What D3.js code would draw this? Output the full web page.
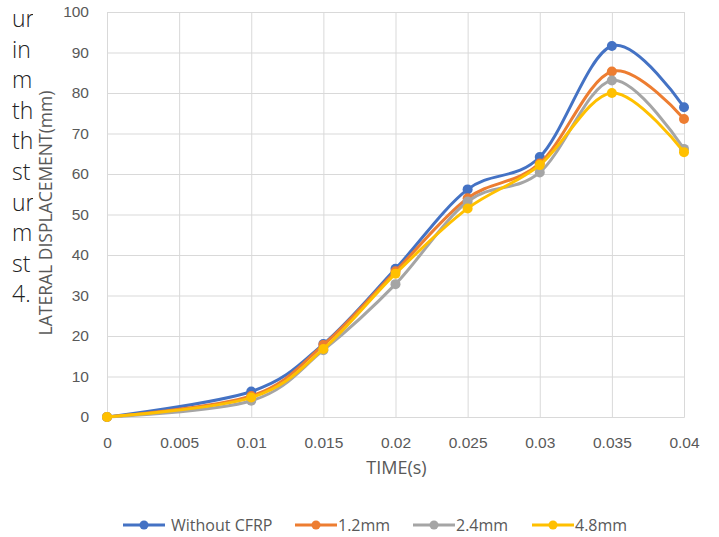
<!DOCTYPE html>
<html>
<head>
<meta charset="utf-8">
<script src="https://cdn.jsdelivr.net/npm/d3@7"></script>
<style>
  body { margin: 0; background: #fff; }
  svg { display: block; }
</style>
</head>
<body>
<div class="responsive-svg-container"></div>
<script>
const timeSteps = [0, 0.01, 0.015, 0.02, 0.025, 0.03, 0.035, 0.04];
const xTicks = [0, 0.005, 0.01, 0.015, 0.02, 0.025, 0.03, 0.035, 0.04];
const yTicks = [0, 10, 20, 30, 40, 50, 60, 70, 80, 90, 100];

const seriesNames = ["Without CFRP", "1.2mm", "2.4mm", "4.8mm"];
const withoutCfrp = [0, 6.3, 18.0, 36.6, 56.2, 64.2, 91.6, 76.5];
const cfrp12 = [0, 5.2, 17.8, 36.0, 54.0, 62.6, 85.3, 73.6];
const cfrp24 = [0, 4.0, 16.5, 32.8, 53.2, 60.4, 83.1, 66.2];
const cfrp48 = [0, 4.8, 16.8, 35.4, 51.5, 62.2, 80.0, 65.4];
const seriesColors = ["#4472C4", "#ED7D31", "#A5A5A5", "#FFC000"];

// clipped words of the page text behind the chart
const sideWords = ["ur", "in", "m", "th", "th", "st", "ur", "m", "st", "4."];

const width = 719;
const height = 537;
const margin = { top: 12, right: 35, bottom: 120, left: 107 };
const plotWidth = width - margin.left - margin.right;
const plotHeight = height - margin.top - margin.bottom;

const svg = d3.select(".responsive-svg-container")
  .append("svg")
  .attr("width", width)
  .attr("height", height)
  .style("font-family", "'Open Sans', 'Noto Sans', sans-serif");

svg.append("defs").append("clipPath").attr("id", "side-clip")
  .append("rect").attr("x", 0).attr("y", 0).attr("width", 33).attr("height", height);

svg.append("g")
  .attr("clip-path", "url(#side-clip)")
  .selectAll("text")
  .data(sideWords)
  .join("text")
  .attr("x", 12)
  .attr("y", (d, i) => 27 + i * 30.6)
  .style("font-size", "23px")
  .style("font-weight", "300")
  .style("fill", "#222")
  .text((d) => d);

const chart = svg.append("g")
  .attr("transform", `translate(${margin.left},${margin.top})`);

const x = d3.scaleLinear().domain([0, 0.04]).range([0, plotWidth]);
const y = d3.scaleLinear().domain([0, 100]).range([plotHeight, 0]);

chart.append("g")
  .call(d3.axisLeft(y).tickValues(yTicks).tickSize(-plotWidth).tickFormat(""))
  .call((g) => g.select(".domain").remove())
  .call((g) => g.selectAll("line").attr("stroke", "#d9d9d9"));

chart.append("g")
  .attr("transform", `translate(0,${plotHeight})`)
  .call(d3.axisBottom(x).tickValues(xTicks).tickSize(-plotHeight).tickFormat(""))
  .call((g) => g.select(".domain").attr("stroke", "#d9d9d9"))
  .call((g) => g.selectAll("line").attr("stroke", "#d9d9d9"));

chart.append("g")
  .call(d3.axisLeft(y).tickValues(yTicks).tickSize(0).tickPadding(18))
  .call((g) => g.select(".domain").remove())
  .call((g) => g.selectAll("text").style("font-size", "15.5px").style("fill", "#595959"));

chart.append("g")
  .attr("transform", `translate(0,${plotHeight})`)
  .call(d3.axisBottom(x).tickValues(xTicks).tickSize(0).tickPadding(20).tickFormat((d) => String(+d.toFixed(3))))
  .call((g) => g.select(".domain").remove())
  .call((g) => g.selectAll("text").style("font-size", "15.5px").style("fill", "#595959"));

const series = [withoutCfrp, cfrp12, cfrp24, cfrp48].map((values, i) => ({
  name: seriesNames[i],
  color: seriesColors[i],
  points: values.map((v, j) => ({ t: timeSteps[j], v })),
}));

const line = d3.line()
  .x((d) => x(d.t))
  .y((d) => y(d.v))
  .curve(d3.curveCardinal.tension(0));

series.forEach((s) => {
  chart.append("path")
    .datum(s.points)
    .attr("fill", "none")
    .attr("stroke", s.color)
    .attr("stroke-width", 3)
    .attr("stroke-linecap", "round")
    .attr("d", line);

  chart.selectAll(null)
    .data(s.points)
    .join("circle")
    .attr("cx", (d) => x(d.t))
    .attr("cy", (d) => y(d.v))
    .attr("r", 5)
    .attr("fill", s.color);
});

svg.append("text")
  .attr("x", margin.left + plotWidth / 2 + 1)
  .attr("y", 474)
  .attr("text-anchor", "middle")
  .style("font-size", "18px")
  .style("fill", "#595959")
  .text("TIME(s)");

svg.append("text")
  .attr("transform", `translate(52,${213}) rotate(-90)`)
  .attr("text-anchor", "middle")
  .style("font-size", "17.5px")
  .style("fill", "#595959")
  .text("LATERAL DISPLACEMENT(mm)");

const legendX = [123, 295, 413, 532];
const legend = svg.append("g").attr("transform", "translate(0,525)");
series.forEach((s, i) => {
  const g = legend.append("g").attr("transform", `translate(${legendX[i]},0)`);
  g.append("line")
    .attr("x1", 0).attr("x2", 42)
    .attr("stroke", s.color).attr("stroke-width", 3);
  g.append("circle").attr("cx", 21).attr("r", 4.5).attr("fill", s.color);
  g.append("text")
    .attr("x", i === 0 ? 48 : 43)
    .attr("y", 5.5)
    .style("font-size", "16px")
    .style("fill", "#595959")
    .text(s.name);
});
</script>
</body>
</html>
